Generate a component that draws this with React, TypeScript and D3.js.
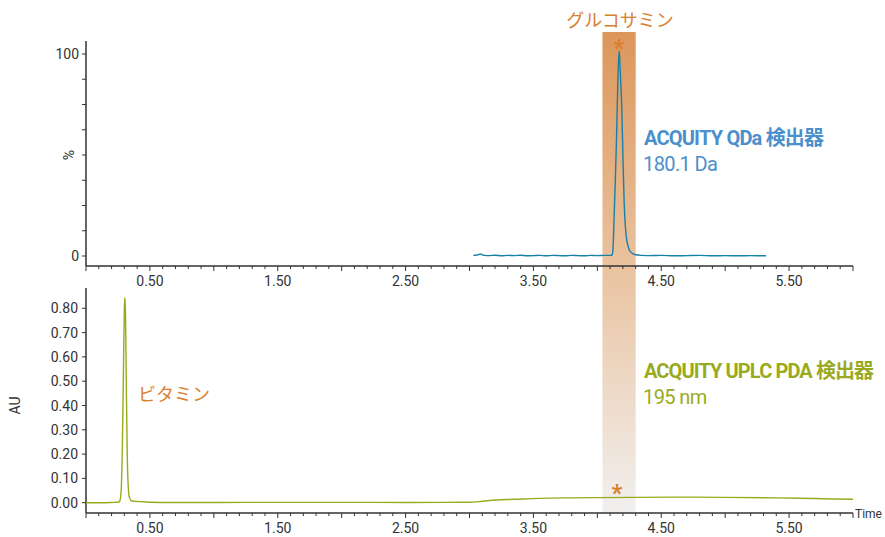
import React from "react";
import * as d3 from "d3";

const xLabelValues = [0.5, 1.5, 2.5, 3.5, 4.5, 5.5];
const xLabels = ["0.50", "1.50", "2.50", "3.50", "4.50", "5.50"];
const topYLabelValues = [0, 100];
const botYLabelValues = [0, 0.1, 0.2, 0.3, 0.4, 0.5, 0.6, 0.7, 0.8];
const botYLabels = ["0.00", "0.10", "0.20", "0.30", "0.40", "0.50", "0.60", "0.70", "0.80"];

// QDa 180.1 Da trace (time, %)
const qdaTime = [3.03, 3.05, 3.07, 3.085, 3.10, 3.12, 3.15, 3.2, 3.25, 3.3, 3.35, 3.4, 3.45, 3.5, 3.55, 3.6, 3.65, 3.7, 3.75, 3.8, 3.85, 3.9, 3.95, 4.0, 4.05, 4.1, 4.115, 4.12, 4.125, 4.13, 4.14, 4.15, 4.16, 4.17, 4.175, 4.18, 4.19, 4.2, 4.21, 4.22, 4.23, 4.24, 4.25, 4.27, 4.3, 4.35, 4.4, 4.5, 4.6, 4.7, 4.8, 4.9, 5.0, 5.1, 5.2, 5.3, 5.32];
const qdaValue = [0.3, 0.4, 0.7, 1.0, 0.6, 0.3, 0.2, 0.4, 0.1, 0.3, 0.2, 0.4, 0.1, 0.2, 0.3, 0.1, 0.3, 0.2, 0.1, 0.3, 0.2, 0.1, 0.3, 0.2, 0.3, 0.3, 0.5, 1.5, 7, 17, 36, 58, 85, 101.5, 98, 90, 76, 50, 26, 14, 8, 5, 3, 1.5, 0.6, 0.3, 0.2, 0.3, 0.1, 0.2, 0.3, 0.1, 0.2, 0.1, 0.2, 0.1, 0.1];

// PDA 195 nm trace (time, AU)
const pdaTime = [0.0, 0.1, 0.2, 0.25, 0.265, 0.275, 0.285, 0.293, 0.3, 0.304, 0.309, 0.315, 0.322, 0.33, 0.34, 0.36, 0.4, 0.45, 0.5, 0.7, 1.0, 1.5, 2.0, 2.5, 2.8, 3.0, 3.1, 3.2, 3.35, 3.55, 3.8, 4.0, 4.3, 4.6, 5.0, 5.4, 5.7, 6.0];
const pdaValue = [0.0, 0.0, 0.001, 0.002, 0.008, 0.05, 0.25, 0.55, 0.8, 0.845, 0.78, 0.5, 0.22, 0.07, 0.02, 0.007, 0.005, 0.004, 0.002, 0.001, 0.001, 0.0015, 0.0015, 0.001, 0.0015, 0.002, 0.006, 0.011, 0.014, 0.018, 0.02, 0.021, 0.022, 0.023, 0.022, 0.02, 0.017, 0.014];

const bandRange = [4.04, 4.30];

const ORANGE = "#d9802e";
const BLUE_TRACE = "#1680a8";
const BLUE_TEXT = "#4b8fcc";
const OLIVE = "#9aaa1c";
const AXIS = "#333";
const FONT = "Roboto, 'Noto Sans CJK JP', sans-serif";

export default function App() {
  const x = d3.scaleLinear().domain([0, 6]).range([86, 853]);
  const yTop = d3.scaleLinear().domain([0, 100]).range([256, 54]);
  const yBot = d3.scaleLinear().domain([0, 0.8]).range([502.7, 308.3]);

  const topLine = d3
    .line<number>()
    .x((_, i) => x(qdaTime[i]))
    .y((d) => yTop(d))
    .curve(d3.curveMonotoneX);
  const botLine = d3
    .line<number>()
    .x((_, i) => x(pdaTime[i]))
    .y((d) => yBot(d))
    .curve(d3.curveMonotoneX);

  const minorX = d3.range(0, 61).map((i) => i / 10);
  const topMinorY = d3.range(0, 9).map((i) => i * 12.5);

  const xAxis = (yPos: number, showLabels: boolean) => (
    <g>
      <line x1={x(0)} x2={x(6)} y1={yPos} y2={yPos} stroke={AXIS} strokeWidth={1.5} />
      {minorX.map((t, i) => {
        const major = i % 5 === 0;
        return (
          <line key={i} x1={x(t)} x2={x(t)} y1={yPos} y2={yPos + (major ? 5 : 3)} stroke={AXIS} strokeWidth={1} />
        );
      })}
      {showLabels &&
        xLabelValues.map((t, i) => (
          <text key={"l" + i} x={x(t)} y={yPos + 20} textAnchor="middle" fontSize={14} fill="#333" fontFamily={FONT}>
            {xLabels[i]}
          </text>
        ))}
    </g>
  );

  return (
    <div style={{ position: "fixed", left: 0, top: 0 }}>
      <svg width={885} height={537} style={{ display: "block", background: "#fff" }}>
        <defs>
          <linearGradient id="band" x1="0" y1="0" x2="0" y2="1">
            <stop offset="0" stopColor="#dc965a" />
            <stop offset="0.49" stopColor="#eac3a0" />
            <stop offset="1" stopColor="#f1f0ef" />
          </linearGradient>
        </defs>

        <rect x={x(bandRange[0])} y={32} width={x(bandRange[1]) - x(bandRange[0])} height={513 - 32} fill="url(#band)" />

        {/* top panel */}
        <line x1={86} x2={86} y1={41} y2={266} stroke={AXIS} strokeWidth={1.5} />
        {topMinorY.map((v, i) => (
          <line key={i} x1={82} x2={86} y1={yTop(v)} y2={yTop(v)} stroke={AXIS} strokeWidth={1} />
        ))}
        {topYLabelValues.map((v, i) => (
          <text key={i} x={79} y={yTop(v) + 5} textAnchor="end" fontSize={14} fill="#333" fontFamily={FONT}>
            {v}
          </text>
        ))}
        <text transform={`translate(74,${yTop(50)}) rotate(-90)`} textAnchor="middle" fontSize={14} fill="#333" fontFamily={FONT}>
          %
        </text>
        {xAxis(266, true)}
        <path d={topLine(qdaValue) || ""} fill="none" stroke={BLUE_TRACE} strokeWidth={1.4} />

        {/* bottom panel */}
        <line x1={86} x2={86} y1={288} y2={513} stroke={AXIS} strokeWidth={1.5} />
        {botYLabelValues.map((v, i) => (
          <g key={i}>
            <line x1={82} x2={86} y1={yBot(v)} y2={yBot(v)} stroke={AXIS} strokeWidth={1} />
            <text x={78} y={yBot(v) + 5} textAnchor="end" fontSize={14} fill="#333" fontFamily={FONT}>
              {botYLabels[i]}
            </text>
          </g>
        ))}
        <text transform={`translate(20,${yBot(0.4)}) rotate(-90)`} textAnchor="middle" fontSize={14} fill="#333" fontFamily={FONT}>
          AU
        </text>
        {xAxis(513, true)}
        <text x={855} y={518} fontSize={12} fill="#333" fontFamily={FONT}>
          Time
        </text>
        <path d={botLine(pdaValue) || ""} fill="none" stroke={OLIVE} strokeWidth={1.4} />

        {/* annotations */}
        <text x={620} y={27} textAnchor="middle" fontSize={18} fill={ORANGE} fontFamily={FONT}>
          グルコサミン
        </text>
        <text x={619} y={56} textAnchor="middle" fontSize={24} fontWeight="bold" fill={ORANGE} fontFamily={FONT}>
          *
        </text>
        <text x={617} y={501} textAnchor="middle" fontSize={24} fontWeight="bold" fill={ORANGE} fontFamily={FONT}>
          *
        </text>
        <text x={138} y={401} fontSize={18} fill={ORANGE} fontFamily={FONT}>
          ビタミン
        </text>

        <text x={644} y={145} fontSize={20} fontWeight="bold" fill={BLUE_TEXT} fontFamily={FONT} letterSpacing={-0.8}>
          ACQUITY QDa 検出器
        </text>
        <text x={643} y={171} fontSize={20} fill={BLUE_TEXT} fontFamily={FONT} letterSpacing={-0.6}>
          180.1 Da
        </text>
        <text x={644} y={378} fontSize={20} fontWeight="bold" fill={OLIVE} fontFamily={FONT} letterSpacing={-0.9}>
          ACQUITY UPLC PDA 検出器
        </text>
        <text x={643} y={404} fontSize={20} fill={OLIVE} fontFamily={FONT} letterSpacing={-0.6}>
          195 nm
        </text>
      </svg>
    </div>
  );
}
